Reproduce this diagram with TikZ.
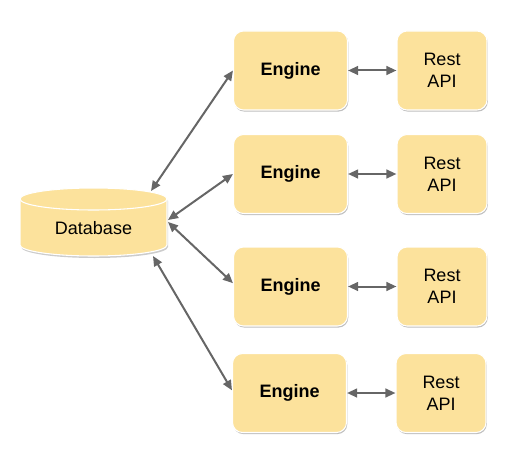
\documentclass[tikz,border=0pt]{standalone}
\usepackage{fontspec}
\setmainfont{Liberation Sans}
\usetikzlibrary{arrows.meta,shadows}
\definecolor{boxfill}{HTML}{FCE29C}
\definecolor{arrowgray}{HTML}{666666}
\begin{document}
\begin{tikzpicture}[x=0.75pt,y=-0.75pt,
  font=\fontsize{13.5}{16.3}\selectfont,
  box/.style={draw=white, line width=0.8pt, fill=boxfill, rounded corners=7.5pt,
    minimum height=59.25pt, align=center,
    drop shadow={shadow xshift=0.6pt, shadow yshift=-1.2pt, opacity=0.25, fill=black}},
  ebox/.style={box, minimum width=85.5pt, font=\fontsize{13.5}{16.3}\selectfont\bfseries},
  rbox/.style={box, minimum width=67.5pt},
  link/.style={draw=arrowgray, line width=1.5pt,
    {Triangle[length=7.5pt,width=6.5pt]}-{Triangle[length=7.5pt,width=6.5pt]}}
]
\useasboundingbox (0,0) rectangle (517,460);

% database cylinder
\fill[black, opacity=0.2] (21,201) -- (21,247) arc (180:360:55.125pt and 8.25pt) -- (168,201) arc (0:180:55.125pt and 8.25pt) -- cycle;
\filldraw[fill=boxfill, draw=white, line width=0.8pt] (20,199) -- (20,245) arc (180:360:55.125pt and 8.25pt) -- (167,199) arc (0:180:55.125pt and 8.25pt) -- cycle;
\draw[white, line width=0.8pt] (20,199) arc (180:360:55.125pt and 8.25pt);
\node[inner sep=0pt, minimum width=110.25pt, minimum height=51pt] (db) at (93.5,222) {};
\node (dbt) at (93.5,228.5) {Database};
\coordinate (d1) at (151,191);
\coordinate (d2) at (168,220);
\coordinate (d3) at (168,222);
\coordinate (d4) at (153,256);

% engines and REST APIs
\node[ebox] (e1) at (290.5,70.5) {Engine};
\node[ebox] (e2) at (290.5,174) {Engine};
\node[ebox] (e3) at (290.5,286.5) {Engine};
\node[ebox] (e4) at (289.5,393) {Engine};
\node[rbox] (r1) at (442,70.5) {Rest\\API};
\node[rbox] (r2) at (442,174) {Rest\\API};
\node[rbox] (r3) at (442,286.5) {Rest\\API};
\node[rbox] (r4) at (441,393) {Rest\\API};

% connectors
\draw[link] (d1) -- (e1.west);
\draw[link] (d2) -- (e2.west);
\draw[link] (d3) -- ([yshift=2.5pt]e3.west);
\draw[link] (d4) -- ([yshift=2pt]e4.west);
\draw[link] (e1) -- (r1);
\draw[link] (e2) -- (r2);
\draw[link] (e3) -- (r3);
\draw[link] (e4) -- (r4);
\end{tikzpicture}
\end{document}
